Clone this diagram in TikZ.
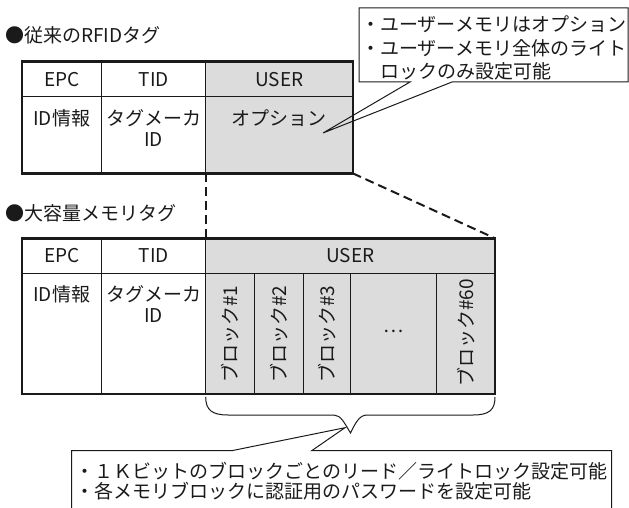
\documentclass[tikz,border=0pt]{standalone}
\usepackage{fontspec}
\setmainfont{Noto Sans CJK JP}
\definecolor{usergray}{HTML}{DCDCDC}
\definecolor{ink}{HTML}{1A1A1A}
\begin{document}
\begin{tikzpicture}[x=1pt,y=-1pt,
  lbl/.style={font=\fontsize{19}{22}\selectfont, text=ink, inner sep=0pt, anchor=center},
  lblw/.style={lbl, anchor=west},
  vlbl/.style={lbl, rotate=90},
  outerframe/.style={draw=ink, line width=2.4pt},
  innerline/.style={draw=ink, line width=0.9pt},
  zoomline/.style={draw=ink, line width=2pt, dash pattern=on 9pt off 5pt},
  calloutline/.style={draw=ink, line width=1pt, line join=miter},
  braceline/.style={draw=ink, line width=1pt},
]
\useasboundingbox (0,0) rectangle (629,508);

% ---------- titles ----------
\node[lblw] (title1) at (5,35) {●従来のRFIDタグ};
\node[lblw] (title2) at (5,213) {●大容量メモリタグ};

% ---------- top table ----------
\coordinate (tNW) at (21.7,61.7);
\coordinate (tSE) at (352.7,173.3);
\coordinate (tUserSW) at (205.7,173.3);
\fill[usergray] (205.7,61.7) rectangle (tSE);
\draw[innerline] (21.7,96.7) -- (352.7,96.7);
\draw[innerline] (101.7,61.7) -- (101.7,173.3);
\draw[innerline] (205.7,61.7) -- (205.7,173.3);
\draw[outerframe] (tNW) rectangle (tSE);

\node[lbl] (tEPC)  at (61.7,80) {EPC};
\node[lbl] (tTID)  at (153.7,80) {TID};
\node[lbl] (tUSER) at (279.2,80) {USER};
\node[lbl] (tIDinfo) at (61.7,118) {ID情報};
\node[lbl] (tMaker)  at (153.7,118) {タグメーカ};
\node[lbl] (tMakerID) at (153.7,140) {ID};
\node[lbl] (tOpt)    at (279.2,118) {オプション};

% ---------- top callout ----------
\coordinate (c1tip) at (323,133);
\draw[calloutline] (359,8) -- (628,8) -- (628,82) -- (452,82) -- (c1tip) -- (410,82) -- (359,82) -- cycle;
\node[lblw] (c1l1) at (361,24) {・ユーザーメモリはオプション};
\node[lblw] (c1l2) at (361,48) {・ユーザーメモリ全体のライト};
\node[lblw] (c1l3) at (380,71) {ロックのみ設定可能};

% ---------- bottom table ----------
\coordinate (bNW) at (21.7,238.3);
\coordinate (bSE) at (495,394);
\coordinate (bUserNW) at (205.7,238.3);
\coordinate (bUserNE) at (495,238.3);
\fill[usergray] (bUserNW) rectangle (bSE);
\draw[innerline] (21.7,273.3) -- (495,273.3);
\draw[innerline] (101.7,238.3) -- (101.7,394);
\draw[innerline] (205.7,238.3) -- (205.7,394);
\foreach \xx in {254,303.3,350,436.7}
  \draw[innerline] (\xx,273.3) -- (\xx,394);
\draw[outerframe] (bNW) rectangle (bSE);

\node[lbl] (bEPC)  at (61.7,256) {EPC};
\node[lbl] (bTID)  at (153.7,256) {TID};
\node[lbl] (bUSER) at (350.3,256) {USER};
\node[lbl] (bIDinfo) at (61.7,294) {ID情報};
\node[lbl] (bMaker)  at (153.7,294) {タグメーカ};
\node[lbl] (bMakerID) at (153.7,316) {ID};
\node[vlbl] (blk1)  at (229.9,334) {ブロック\#1};
\node[vlbl] (blk2)  at (278.7,334) {ブロック\#2};
\node[vlbl] (blk3)  at (326.7,334) {ブロック\#3};
\node[lbl]  (blkdots) at (393.4,331.7) {…};
\node[vlbl] (blk60) at (465.9,333) {ブロック\#60};

% ---------- zoom (dashed) lines ----------
\draw[zoomline] (tUserSW) -- (bUserNW);
\draw[zoomline] (tSE) -- (bUserNE);

% ---------- brace ----------
\coordinate (braceL) at (205.7,397);
\coordinate (braceR) at (495,397);
\coordinate (braceTip) at (350.5,433);
\draw[braceline] (braceL) .. controls (205.7,410) and (212,415) .. (228,415)
  -- (334,415) .. controls (341,415) and (345,424) .. (braceTip)
  .. controls (355,424) and (359,415) .. (367,415)
  -- (473,415) .. controls (489,415) and (495,410) .. (braceR);

% ---------- bottom callout ----------
\coordinate (c2tip) at (345,427.7);
\draw[calloutline] (71.7,508) -- (71.7,450.7) -- (231.7,450.7) -- (c2tip) -- (311.7,450.7) -- (611.7,450.7) -- (611.7,508);
\node[lblw] (c2l1) at (75,471) {・１Ｋビットのブロックごとのリード／ライトロック設定可能};
\node[lblw] (c2l2) at (75,491) {・各メモリブロックに認証用のパスワードを設定可能};

\end{tikzpicture}
\end{document}
